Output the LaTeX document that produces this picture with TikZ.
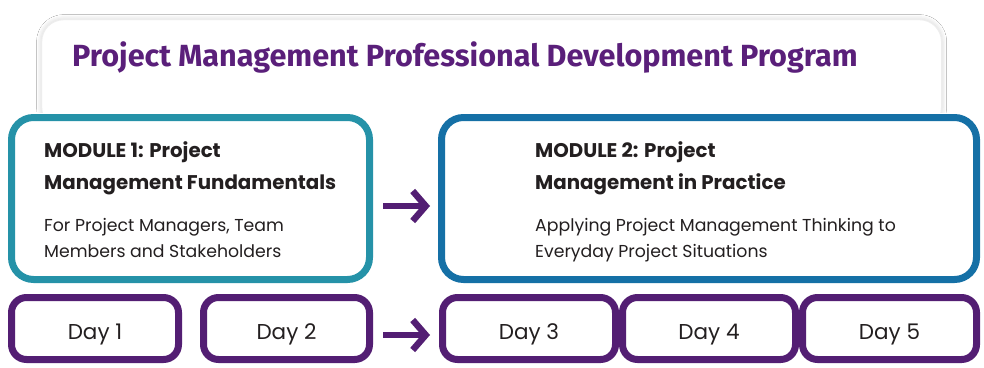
\documentclass[tikz,border=0pt]{standalone}
\usepackage{fontspec}
\setmainfont{Poppins}
\newfontfamily\titlefont{Fira Sans}
\usetikzlibrary{arrows.meta,shadows.blur}
\definecolor{tealc}{HTML}{2592A8}
\definecolor{bluec}{HTML}{1570A6}
\definecolor{purc}{HTML}{531E73}
\definecolor{titlec}{HTML}{5A1F7A}
\definecolor{txtc}{HTML}{231F20}
\tikzset{
  x=1pt,y=-1pt,
  card/.style={draw=black!7,fill=white,rounded corners=22pt,line width=1.2pt,blur shadow={shadow xshift=0pt,shadow yshift=0pt,shadow blur radius=5pt,shadow opacity=20}},
  modbox/.style={draw,line width=7pt,fill=white,rounded corners=22pt,minimum height=162pt,inner sep=0pt},
  daybox/.style={draw=purc,line width=7pt,fill=white,rounded corners=15pt,minimum height=62pt,inner sep=0pt,text height=22pt,text depth=0pt,font=\fontsize{21.5}{24}\selectfont,text=txtc},
  flow/.style={draw=purc,line width=6.5pt,-{Straight Barb[length=13pt,width=30pt]}},
  headtxt/.style={anchor=base west,align=left,inner sep=0pt,text=txtc,font=\fontsize{19.8}{32}\selectfont\bfseries},
  subtxt/.style={anchor=base west,align=left,inner sep=0pt,text=txtc,font=\fontsize{17.3}{26}\selectfont},
}
\begin{document}
\begin{tikzpicture}
\useasboundingbox (0,0) rectangle (984,367);
\fill[white] (0,0) rectangle (984,367);
\node[card,minimum width=900pt,minimum height=110pt,anchor=north west] (card) at (41,19) {};
\fill[white] (0,113) rectangle (984,367);
\node[anchor=base west,inner sep=0pt,text=titlec,font=\titlefont\fontsize{30.6}{34}\selectfont\bfseries] (title) at (72,66) {Project Management Professional Development Program};
\node[modbox,draw=tealc,minimum width=358pt] (m1) at (190.5,198.5) {};
\node[modbox,draw=bluec,minimum width=535pt] (m2) at (709,198.5) {};
\node[headtxt] (m1h) at (44,189) {MODULE 1: Project\\Management Fundamentals};
\node[subtxt] (m1s) at (44,257) {For Project Managers, Team\\Members and Stakeholders};
\node[headtxt] (m2h) at (535,189) {MODULE 2: Project\\Management in Practice};
\node[subtxt] (m2s) at (535,257) {Applying Project Management Thinking to\\Everyday Project Situations};
\node[daybox,minimum width=167pt] (d1) at (95,328.5) {Day 1};
\node[daybox,minimum width=166pt] (d2) at (286.5,328.5) {Day 2};
\node[daybox,minimum width=173pt] (d3) at (529,328.5) {Day 3};
\node[daybox,minimum width=173pt] (d4) at (709,328.5) {Day 4};
\node[daybox,minimum width=174pt] (d5) at (889.5,328.5) {Day 5};
\draw[flow,shorten <=10pt,shorten >=8pt] (m1.east |- 0,206) -- (m2.west |- 0,206);
\draw[flow,shorten <=10pt,shorten >=9pt] (d2.east |- 0,335) -- (d3.west |- 0,335);
\end{tikzpicture}
\end{document}
